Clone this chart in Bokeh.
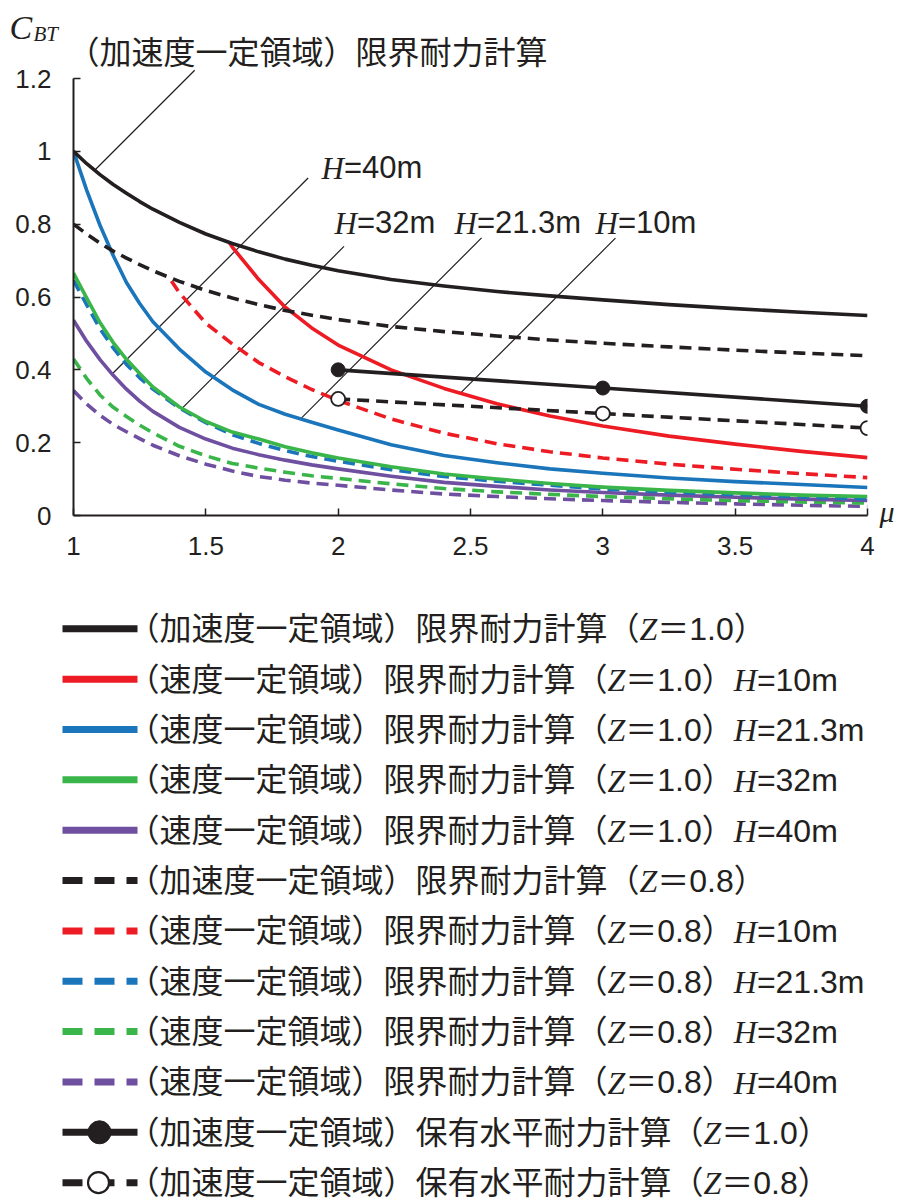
import numpy as np
from bokeh.plotting import figure
from bokeh.models import (Range1d, FixedTicker, NumeralTickFormatter, ColumnDataSource,
                          LinearAxis, CustomJSTickFormatter)
from bokeh.layouts import column
from bokeh.embed import file_html
from bokeh.resources import INLINE
from bokeh.core.properties import value

# ---------------------------------------------------------------- data
# ductility factor grid shared by most curves
MU = [1.0, 1.05, 1.1, 1.15, 1.2, 1.25, 1.3, 1.4, 1.5, 1.6, 1.7, 1.8, 1.9,
      2.0, 2.2, 2.4, 2.6, 2.8, 3.0, 3.25, 3.5, 3.75, 4.0]

# acceleration-constant region, limit strength calculation
ACC_Z10 = [1.000, 0.966, 0.936, 0.909, 0.885, 0.862, 0.841, 0.805, 0.773, 0.747,
           0.724, 0.704, 0.687, 0.672, 0.648, 0.630, 0.615, 0.603, 0.592, 0.579,
           0.568, 0.558, 0.549]
ACC_Z08 = [0.800, 0.773, 0.748, 0.726, 0.707, 0.689, 0.672, 0.643, 0.618, 0.597,
           0.579, 0.563, 0.550, 0.538, 0.519, 0.505, 0.493, 0.482, 0.473, 0.463,
           0.454, 0.446, 0.439]

# velocity-constant region, H = 10 m (branches off the acceleration curves)
MU_H10_Z10 = [1.59, 1.6, 1.7, 1.8, 1.9, 2.0, 2.2, 2.4, 2.6, 2.8, 3.0, 3.25, 3.5, 3.75, 4.0]
H10_Z10 = [0.748, 0.737, 0.648, 0.572, 0.515, 0.468, 0.400, 0.349, 0.307, 0.273,
           0.246, 0.218, 0.196, 0.176, 0.159]
MU_H10_Z08 = [1.37, 1.4, 1.5, 1.6, 1.7, 1.8, 1.9, 2.0, 2.2, 2.4, 2.6, 2.8, 3.0,
              3.25, 3.5, 3.75, 4.0]
H10_Z08 = [0.644, 0.612, 0.528, 0.471, 0.420, 0.381, 0.346, 0.316, 0.265, 0.226,
           0.197, 0.175, 0.158, 0.141, 0.127, 0.115, 0.104]

# velocity-constant region, H = 21.3 m / 32 m / 40 m
H21_Z10 = [1.000, 0.893, 0.797, 0.714, 0.640, 0.582, 0.532, 0.457, 0.394, 0.345,
           0.305, 0.278, 0.256, 0.235, 0.194, 0.165, 0.145, 0.128, 0.116, 0.103,
           0.093, 0.085, 0.077]
H21_Z08 = [0.646, 0.578, 0.513, 0.460, 0.415, 0.378, 0.347, 0.295, 0.255, 0.222,
           0.198, 0.178, 0.162, 0.149, 0.126, 0.107, 0.094, 0.083, 0.073, 0.064,
           0.057, 0.051, 0.046]
H32_Z10 = [0.666, 0.597, 0.530, 0.475, 0.429, 0.390, 0.353, 0.298, 0.258, 0.229,
           0.210, 0.189, 0.172, 0.158, 0.134, 0.114, 0.100, 0.088, 0.078, 0.069,
           0.062, 0.056, 0.052]
H32_Z08 = [0.430, 0.376, 0.331, 0.297, 0.272, 0.248, 0.227, 0.190, 0.164, 0.143,
           0.130, 0.119, 0.109, 0.102, 0.087, 0.074, 0.065, 0.058, 0.052, 0.046,
           0.041, 0.037, 0.034]
H40_Z10 = [0.536, 0.478, 0.428, 0.385, 0.347, 0.314, 0.286, 0.242, 0.210, 0.185,
           0.167, 0.152, 0.139, 0.128, 0.108, 0.091, 0.080, 0.070, 0.063, 0.056,
           0.050, 0.045, 0.041]
H40_Z08 = [0.343, 0.306, 0.275, 0.250, 0.230, 0.211, 0.193, 0.164, 0.141, 0.122,
           0.107, 0.097, 0.089, 0.083, 0.070, 0.059, 0.052, 0.046, 0.041, 0.036,
           0.032, 0.028, 0.025]

# horizontal load-carrying capacity calculation
HOLD_MU = [2, 3, 4]
HOLD_Z10 = [0.40, 0.35, 0.30]
HOLD_Z08 = [0.32, 0.28, 0.24]

X_TICKS = [1, 1.5, 2, 2.5, 3, 3.5, 4]
Y_TICKS = [0, 0.2, 0.4, 0.6, 0.8, 1.0, 1.2]

# ---------------------------------------------------------------- style
INK = "#231f20"
RED = "#ed1c24"
BLUE = "#1b75bb"
GREEN = "#39b54a"
PURPLE = "#6f4fa0"
DASH = "12 7"
JP = "Noto Sans CJK JP"
SANS = "Liberation Sans"
SERIF = "Liberation Serif"
# distance from the requested y to the drawn baseline, in em, per family
BASE_SHIFT = {JP: 0.436, SANS: 0.347, SERIF: 0.338}

# page geometry (canvas pixels)
W = 900
TOP_H = 68                         # strip holding the axis name and the title
MAIN_H = 600 - TOP_H
LEG_H = 1201 - TOP_H - MAIN_H
F_LEFT = 73
F_RIGHT = 867                      # pixel column of mu = 4
ZERO_PX = 515                      # pixel row of C = 0
Y_MAX_PX = 78                      # pixel row of C = 1.2
PX_X = (F_RIGHT - F_LEFT) / (X_TICKS[-1] - X_TICKS[0])
PX_Y = (ZERO_PX - Y_MAX_PX) / Y_TICKS[-1]


def main_xy(sx, sy):
    """canvas pixel -> data coordinates of the chart"""
    return X_TICKS[0] + (sx - F_LEFT) / PX_X, (ZERO_PX - sy) / PX_Y


def main_px(mx, cy):
    return F_LEFT + (mx - X_TICKS[0]) * PX_X, ZERO_PX - cy * PX_Y


def add_texts(fig, items, font, size, style, to_fig):
    """items: (canvas x, canvas baseline y, text)"""
    if not items:
        return
    xs, ys, ts = [], [], []
    for sx, sy, t in items:
        x, y = to_fig(sx, sy - BASE_SHIFT[font] * size)
        xs.append(x); ys.append(y); ts.append(t)
    fig.text(x="x", y="y", text="t", source=ColumnDataSource(dict(x=xs, y=ys, t=ts)),
             text_font=value(font), text_font_style=style, text_font_size=f"{size}px",
             text_color=INK, text_align="left", text_baseline="alphabetic")


def blank(height):
    f = figure(width=W, height=height, x_range=Range1d(0, W), y_range=Range1d(height, 0),
               x_axis_type=None, y_axis_type=None, min_border=0, outline_line_color=None,
               output_backend="svg", toolbar_location=None,
               background_fill_color="white", border_fill_color="white")
    f.frame_align = False
    return f


# ---------------------------------------------------------------- top strip
top = blank(TOP_H)
to_top = lambda sx, sy: (sx, sy)
add_texts(top, [(9, 38, "C")], SERIF, 34, "italic", to_top)
add_texts(top, [(33, 41, "BT")], SERIF, 21, "italic", to_top)
add_texts(top, [(67, 63, "（加速度一定領域）限界耐力計算")], JP, 32, "normal", to_top)

# ---------------------------------------------------------------- chart
p = figure(width=W, height=MAIN_H,
           x_range=Range1d(X_TICKS[0], X_TICKS[-1]),
           y_range=Range1d(0, main_xy(0, TOP_H)[1]),
           output_backend="svg", toolbar_location=None,
           min_border_left=F_LEFT, min_border_right=W - F_RIGHT, min_border_top=0,
           min_border_bottom=TOP_H + MAIN_H - ZERO_PX, outline_line_color=None,
           background_fill_color="white", border_fill_color="white")
p.frame_align = False
p.grid.visible = False

for ax in (p.xaxis[0], p.yaxis[0]):
    ax.axis_line_color = INK
    ax.axis_line_width = 2
    ax.major_tick_line_color = INK
    ax.major_tick_line_width = 1.5
    ax.major_tick_in = 7
    ax.major_tick_out = 0
    ax.minor_tick_line_color = None
    ax.major_label_text_font = SANS
    ax.major_label_text_font_size = "26px"
    ax.major_label_text_color = INK
    ax.formatter = NumeralTickFormatter(format="0.[0]")

p.xaxis[0].ticker = FixedTicker(ticks=X_TICKS, minor_ticks=[])
p.yaxis[0].ticker = FixedTicker(ticks=Y_TICKS, minor_ticks=[])
p.xaxis[0].bounds = (X_TICKS[0], X_TICKS[-1])
p.yaxis[0].bounds = (Y_TICKS[0], Y_TICKS[-1])
p.xaxis[0].major_label_standoff = 21
p.yaxis[0].major_label_standoff = 22

# abscissa name at the right end of the horizontal axis
mu_axis = LinearAxis(ticker=FixedTicker(ticks=[0.012], minor_ticks=[]),
                     formatter=CustomJSTickFormatter(code="return 'μ'"),
                     axis_line_color=None, major_tick_line_color=None,
                     minor_tick_line_color=None, major_tick_in=0, major_tick_out=0,
                     major_label_standoff=12, major_label_text_font=SERIF,
                     major_label_text_font_style="italic",
                     major_label_text_font_size="30px", major_label_text_color=INK)
p.add_layout(mu_axis, "right")

# callout leaders: (x, y arrays, anchor mu, length in px at 45 degrees)
LEADERS = [(MU, ACC_Z10, 1.08, 100), (MU, H40_Z10, 1.146, 196),
           (MU, H32_Z10, 1.41, 162), (MU, H21_Z10, 1.858, 181),
           (MU_H10_Z10, H10_Z10, 2.462, 155)]
lx0, ly0, lx1, ly1 = [], [], [], []
for xs, ys, m, length in LEADERS:
    c = float(np.interp(m, xs, ys))
    sx, sy = main_px(m, c)
    ex, ey = main_xy(sx + length, sy - length)
    lx0.append(m); ly0.append(c); lx1.append(ex); ly1.append(ey)
p.segment(lx0, ly0, lx1, ly1, line_color=INK, line_width=1.2)

# curves
CURVES = [
    (MU, H40_Z08, PURPLE, DASH), (MU, H32_Z08, GREEN, DASH),
    (MU, H40_Z10, PURPLE, None), (MU, H21_Z08, BLUE, DASH),
    (MU, H32_Z10, GREEN, None), (MU, H21_Z10, BLUE, None),
    (MU_H10_Z08, H10_Z08, RED, DASH), (MU_H10_Z10, H10_Z10, RED, None),
    (MU, ACC_Z08, INK, DASH), (MU, ACC_Z10, INK, None),
]
for xs, ys, col, dash in CURVES:
    p.line(xs, ys, line_color=col, line_width=3.6,
           line_dash=dash if dash else "solid", line_cap="butt", line_join="round")

p.line(HOLD_MU, HOLD_Z08, line_color=INK, line_width=3.6, line_dash=DASH)
p.line(HOLD_MU, HOLD_Z10, line_color=INK, line_width=3.6)
p.scatter(HOLD_MU, HOLD_Z10, marker="circle", size=14, fill_color=INK, line_color=INK)
p.scatter(HOLD_MU, HOLD_Z08, marker="circle", size=14, fill_color="white",
          line_color=INK, line_width=1.8)

# callout texts
H_FS = 31
H_LABELS = [("40m", 321, 178), ("32m", 334, 233), ("21.3m", 454, 233), ("10m", 595, 233)]
add_texts(p, [(sx, sy, "H") for _, sx, sy in H_LABELS], SERIF, H_FS, "italic", main_xy)
add_texts(p, [(sx + 0.722 * H_FS, sy, "=" + h) for h, sx, sy in H_LABELS],
          SANS, H_FS, "normal", main_xy)

# ---------------------------------------------------------------- legend
leg = blank(LEG_H)
LEG_TOP = TOP_H + MAIN_H
to_leg = lambda sx, sy: (sx, sy - LEG_TOP)

ROW0, ROW_STEP = 628.3, 50.35
SAMPLE_X = (62, 137)
TEXT_X = 127
FS = 32
LEG_DASH = "20 12"

# (region, method, Z, H, colour, dashed, marker)
LEGEND = [
    ("加速度", "限界耐力計算", "1.0", None, INK, False, None),
    ("速度", "限界耐力計算", "1.0", "10m", RED, False, None),
    ("速度", "限界耐力計算", "1.0", "21.3m", BLUE, False, None),
    ("速度", "限界耐力計算", "1.0", "32m", GREEN, False, None),
    ("速度", "限界耐力計算", "1.0", "40m", PURPLE, False, None),
    ("加速度", "限界耐力計算", "0.8", None, INK, True, None),
    ("速度", "限界耐力計算", "0.8", "10m", RED, True, None),
    ("速度", "限界耐力計算", "0.8", "21.3m", BLUE, True, None),
    ("速度", "限界耐力計算", "0.8", "32m", GREEN, True, None),
    ("速度", "限界耐力計算", "0.8", "40m", PURPLE, True, None),
    ("加速度", "保有水平耐力計算", "1.0", None, INK, False, "filled"),
    ("加速度", "保有水平耐力計算", "0.8", None, INK, True, "open"),
]

# advance widths (em) for the Latin pieces
W_Z, W_H = 0.556, 0.722
SANS_W = {c: 0.556 for c in "0123456789"}
SANS_W.update({".": 0.278, "=": 0.584, "m": 0.833})

jp_items, it_items, sa_items = [], [], []
for i, (region, method, z, h, col, dashed, marker) in enumerate(LEGEND):
    yc = ROW0 + i * ROW_STEP
    ly = yc - LEG_TOP
    leg.line(list(SAMPLE_X), [ly, ly], line_color=col, line_width=7,
             line_dash=LEG_DASH if dashed else "solid", line_cap="butt")
    if marker == "filled":
        leg.scatter([99], [ly], marker="circle", size=23, fill_color=INK, line_color=INK)
    elif marker == "open":
        leg.scatter([98], [ly], marker="circle", size=21, fill_color="white",
                    line_color=INK, line_width=2.2)
    yb = yc + 11.5
    head = f"（{region}一定領域）{method}（"
    x = TEXT_X
    jp_items.append((x, yb, head))
    x += len(head) * FS
    it_items.append((x, yb, "Z"))
    x += W_Z * FS
    jp_items.append((x, yb, "＝"))
    x += FS
    sa_items.append((x, yb, z))
    x += sum(SANS_W[c] for c in z) * FS
    jp_items.append((x, yb, "）"))
    x += FS
    if h:
        it_items.append((x, yb, "H"))
        x += W_H * FS
        sa_items.append((x, yb, "=" + h))

add_texts(leg, jp_items, JP, FS, "normal", to_leg)
add_texts(leg, it_items, SERIF, FS, "italic", to_leg)
add_texts(leg, sa_items, SANS, FS, "normal", to_leg)

layout = column(top, p, leg, spacing=0)
open("out.html", "w").write(file_html(layout, INLINE))
